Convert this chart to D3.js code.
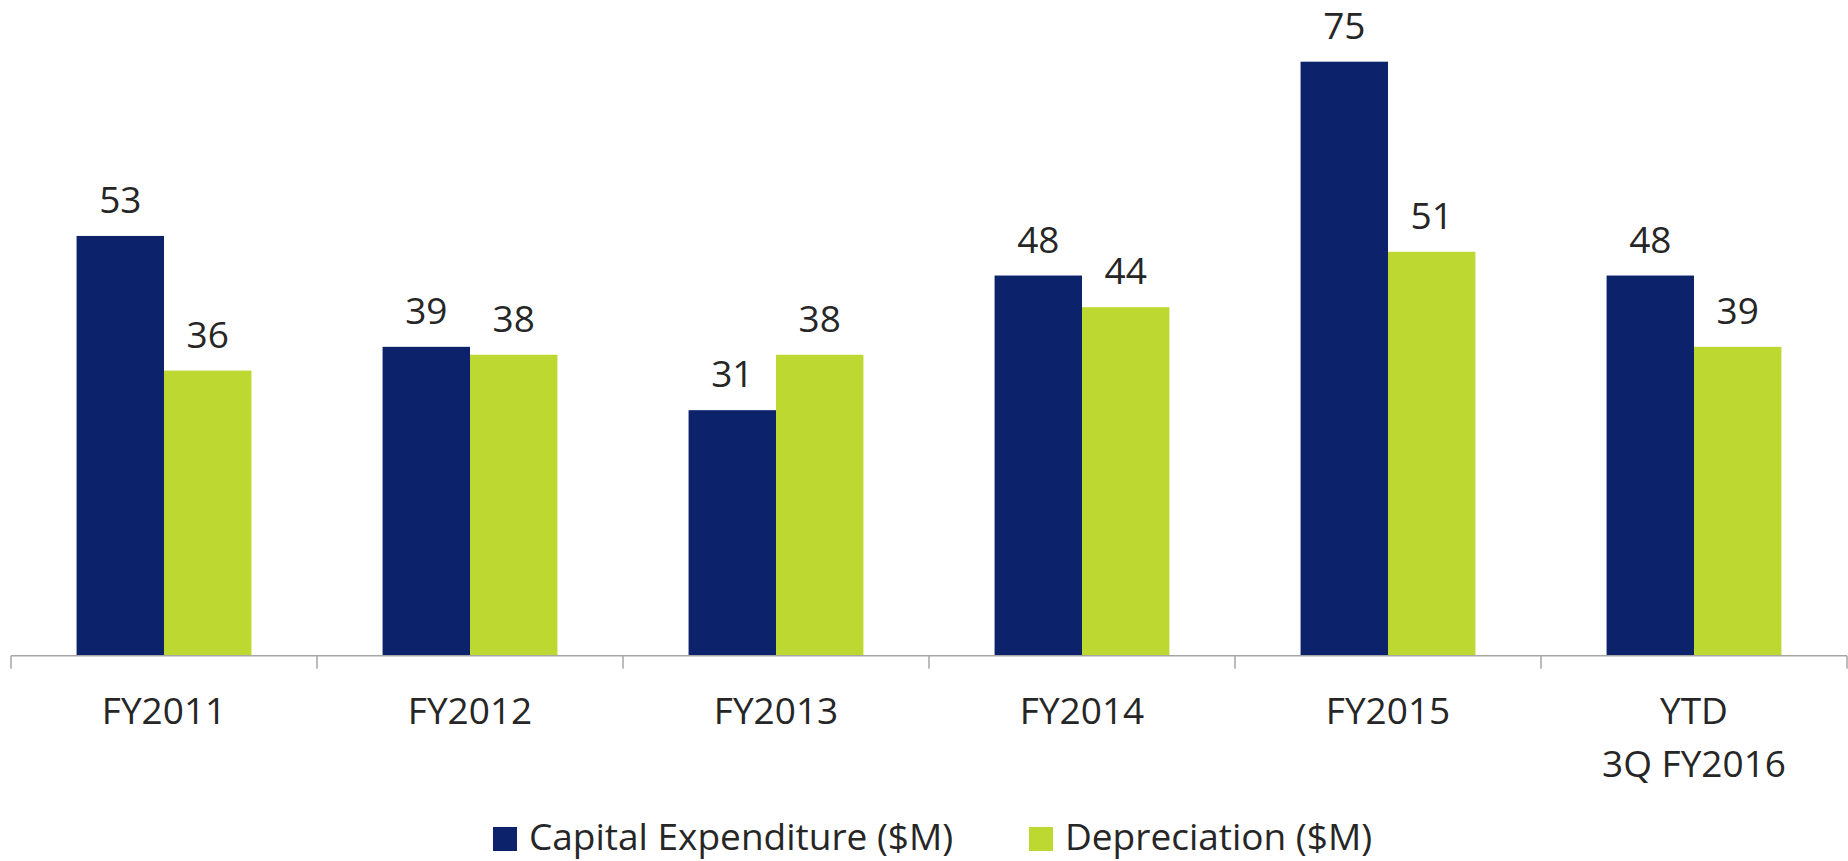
<!DOCTYPE html>
<html>
<head>
<meta charset="utf-8">
<script src="https://cdn.jsdelivr.net/npm/d3@7"></script>
<style>
  body { margin: 0; background: #fff; }
  text { font-family: "Open Sans", sans-serif; fill: #262626; }
</style>
</head>
<body>
<svg id="svg" width="1848" height="861"></svg>
<script>
// chart data
var categories = ["FY2011", "FY2012", "FY2013", "FY2014", "FY2015", "YTD\n3Q FY2016"];
var series = ["Capital Expenditure ($M)", "Depreciation ($M)"];
var capex = [53, 39, 31, 48, 75, 48];
var depreciation = [36, 38, 38, 44, 51, 39];
var colors = ["#0C226A", "#BED832"];

var svg = d3.select("#svg");

var margin = {left: 11, right: 1, top: 20, bottom: 205};
var width = +svg.attr("width") - margin.left - margin.right;
var baseY = 655.7;

var x0 = d3.scaleBand().domain(categories).range([margin.left, margin.left + width]);
var x1 = d3.scaleBand().domain(series).range([0, x0.bandwidth()]).paddingOuter(0.75);
// 75 -> 61.7px from top, so 7.92 px per unit
var y = d3.scaleLinear().domain([0, 75]).range([baseY, 61.7]);

var rows = categories.map((c, i) => ({cat: c, vals: [capex[i], depreciation[i]]}));

var g = svg.append('g');

// bars
var groups = g.selectAll('.grp')
  .data(rows)
  .enter().append('g')
  .classed('grp', true)
  .attr('transform', d => 'translate(' + x0(d.cat) + ',0)');

groups.selectAll('rect')
  .data(d => d.vals.map((v, j) => ({s: series[j], v: v, j: j})))
  .enter().append('rect')
  .attr('x', d => x1(d.s))
  .attr('y', d => y(d.v))
  .attr('width', x1.bandwidth())
  .attr('height', d => baseY - y(d.v))
  .style('fill', d => colors[d.j]);

// value labels
groups.selectAll('.lbl')
  .data(d => d.vals.map((v, j) => ({s: series[j], v: v})))
  .enter().append('text')
  .classed('lbl', true)
  .attr('x', d => x1(d.s) + x1.bandwidth() / 2)
  .attr('y', d => y(d.v) - 23)
  .attr('text-anchor', 'middle')
  .style('font-size', '37px')
  .text(d => d.v);

// x axis line and tick marks at band edges
g.append('line')
  .attr('x1', margin.left).attr('x2', margin.left + width)
  .attr('y1', baseY).attr('y2', baseY)
  .style('stroke', '#A6A6A6').style('stroke-width', 1.5);

var edges = categories.map(c => x0(c)).concat([x0.range()[1]]);
g.selectAll('.tk')
  .data(edges)
  .enter().append('line')
  .classed('tk', true)
  .attr('x1', d => d).attr('x2', d => d)
  .attr('y1', baseY).attr('y2', baseY + 13)
  .style('stroke', '#A6A6A6').style('stroke-width', 1.5);

// category labels
var cl = g.selectAll('.cat')
  .data(categories)
  .enter().append('text')
  .classed('cat', true)
  .attr('text-anchor', 'middle')
  .style('font-size', '37px');
cl.each(function(c) {
  var t = d3.select(this);
  c.split('\n').forEach((line, k) => {
    t.append('tspan')
      .attr('x', x0(c) + x0.bandwidth() / 2)
      .attr('y', 724 + k * 52.5)
      .text(line);
  });
});

// legend
var legX = [493, 1029];
var leg = svg.append('g').selectAll('.leg')
  .data(series)
  .enter().append('g')
  .classed('leg', true)
  .attr('transform', (d, i) => 'translate(' + legX[i] + ',827)');
leg.append('rect')
  .attr('width', 24).attr('height', 24)
  .style('fill', (d, i) => colors[i]);
leg.append('text')
  .attr('x', 36)
  .attr('y', 23)
  .style('font-size', '37px')
  .text(d => d);
</script>
</body>
</html>
